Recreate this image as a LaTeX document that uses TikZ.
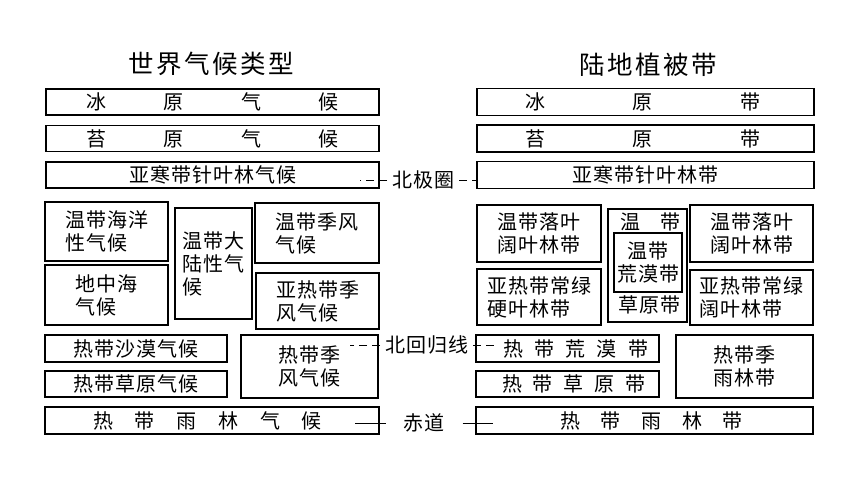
\documentclass[tikz,border=0pt]{standalone}
\usepackage{fontspec}
\usepackage{tikz}
\newfontfamily\cjk[LetterSpace=5]{Noto Sans CJK SC}
\newfontfamily\cjkhead[LetterSpace=10]{Noto Sans CJK SC}

\begin{document}
\begin{tikzpicture}[x=1pt, y=-1pt, node distance=36.5pt,
	zonebox/.style={draw, line width=1.2pt, inner sep=0pt, align=left, font=\cjk\fontsize{20}{23}\selectfont},
	plaintext/.style={inner sep=0pt, font=\cjk\fontsize{20}{23}\selectfont},
	linelabel/.style={plaintext, outer xsep=5pt},
	heading/.style={inner sep=0pt, font=\cjkhead\fontsize{25.5}{30}\selectfont},
	cutline/.style={line width=0.8pt, dash pattern=on 8pt off 5pt}]
			\useasboundingbox (0,0) rectangle (860,484);
			\node[heading] (atitle) at (211.5,64) {世界气候类型};
			\node[heading] (btitle) at (648,64.5) {陆地植被带};

			\node[zonebox, minimum width=333pt, minimum height=26pt] (aice) at (212.5,102) {\makebox[252pt][s]{冰\hfil 原\hfil 气\hfil 候}};
			\node[zonebox, minimum width=333pt, minimum height=26pt] (atundra) [below of=aice] {\makebox[252pt][s]{苔\hfil 原\hfil 气\hfil 候}};
			\node[zonebox, minimum width=333pt, minimum height=26pt] (ataiga) [below of=atundra] {亚寒带针叶林气候};
			\node[zonebox, minimum width=123pt, minimum height=59pt] (amaritime) at (106.5,231.5) {温带海洋\\性气候};
			\node[zonebox, minimum width=123pt, minimum height=60pt] (amed) at (106.5,295) {地中海\\气候};
			\node[zonebox, minimum width=77pt, minimum height=111pt] (acont) at (213.5,263.5) {温带大\\陆性气\\候};
			\node[zonebox, minimum width=124pt, minimum height=60pt] (amonsoon) at (317,233) {温带季风\\气候};
			\node[zonebox, minimum width=123pt, minimum height=56pt] (asubmonsoon) at (317.5,301) {亚热带季\\风气候};
			\node[zonebox, minimum width=182pt, minimum height=27pt] (adesert) at (136,348.5) {热带沙漠气候};
			\node[zonebox, minimum width=182pt, minimum height=26pt] (asavanna) at (136,384) {热带草原气候};
			\node[zonebox, minimum width=137pt, minimum height=63pt] (atropmonsoon) at (309.5,366.5) {热带季\\风气候};
			\node[zonebox, minimum width=334pt, minimum height=27pt] (arain) at (212,420.5) {\hspace*{-9pt}\makebox[229pt][s]{热\hfil 带\hfil 雨\hfil 林\hfil 气\hfil 候}};

			\node[zonebox, minimum width=337pt, minimum height=27pt] (bice) [right of=aice, node distance=433pt] {\hspace*{-6pt}\makebox[235pt][s]{冰\hfil 原\hfil 带}};
			\node[zonebox, minimum width=337pt, minimum height=27pt] (btundra) [below of=bice] {\hspace*{-6pt}\makebox[235pt][s]{苔\hfil 原\hfil 带}};
			\node[zonebox, minimum width=337pt, minimum height=27pt] (btaiga) [below of=btundra] {亚寒带针叶林带};
			\node[zonebox, minimum width=124pt, minimum height=57pt] (bdecidl) at (539,233.5) {温带落叶\\阔叶林带};
			\node[zonebox, minimum width=124pt, minimum height=56pt] (bscler) at (539,297) {亚热带常绿\\硬叶林带};
			\node[zonebox, minimum width=79pt, minimum height=113pt] (bsteppe) at (647.5,265.5) {};
			\node[plaintext] (bsteppetop) at (650,222) {温\quad 带};
			\node[zonebox, minimum width=68pt, minimum height=59pt, align=center] (bdesert) at (648,262.5) {温带\\荒漠带};
			\node[plaintext] (bsteppebot) at (649,305) {草原带};
			\node[zonebox, minimum width=123pt, minimum height=57pt] (bdecidr) at (751.5,233.5) {温带落叶\\阔叶林带};
			\node[zonebox, minimum width=123pt, minimum height=55pt] (bbroad) at (751.5,297.5) {亚热带常绿\\阔叶林带};
			\node[zonebox, minimum width=183pt, minimum height=27pt] (btropdesert) at (567.5,348.5) {\hspace*{16pt}\makebox[145pt][s]{热\hfil 带\hfil 荒\hfil 漠\hfil 带}};
			\node[zonebox, minimum width=183pt, minimum height=26pt] (btropsavanna) at (567.5,384) {\hspace*{12pt}\makebox[143pt][s]{热\hfil 带\hfil 草\hfil 原\hfil 带}};
			\node[zonebox, minimum width=137pt, minimum height=63pt, align=center] (bseasonal) at (744.5,366.5) {热带季\\雨林带};
			\node[zonebox, minimum width=337pt, minimum height=27pt] (brain) at (644.5,420.5) {\hspace*{14pt}\makebox[183pt][s]{热\hfil 带\hfil 雨\hfil 林\hfil 带}};

			\node[linelabel] (arctic) at (423,180) {北极圈};
			\node[linelabel] (tropic) at (426.5,345) {北回归线};
			\node[linelabel, outer xsep=18pt] (equator) at (424,423) {赤道};
			\coordinate (arcticl) at (360,180);
			\coordinate (arcticr) at (478,180);
			\coordinate (tropicl) at (350,345);
			\coordinate (tropicr) at (497,345);
			\coordinate (equatorl) at (355,423);
			\coordinate (equatorr) at (493,423);

			\path[cutline]
			(arctic) edge (arcticl)
			(arctic) edge (arcticr)
			(tropic) edge (tropicl)
			(tropic) edge (tropicr);
			\path[line width=0.8pt]
			(equator) edge (equatorl)
			(equator) edge (equatorr);
		\end{tikzpicture}
\end{document}
